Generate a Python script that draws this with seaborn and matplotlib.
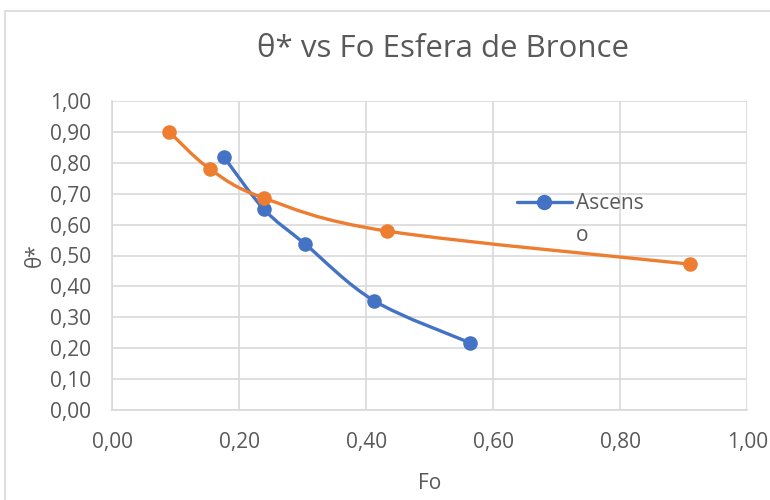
import matplotlib

matplotlib.use("Agg")
import matplotlib.pyplot as plt
import numpy as np
import pandas as pd
import seaborn as sns
from matplotlib.patches import PathPatch, Rectangle
from matplotlib.path import Path
from matplotlib.lines import Line2D

# data
ascenso_fo = [0.176, 0.239, 0.304, 0.413, 0.564]
ascenso_theta = [0.819, 0.650, 0.537, 0.353, 0.217]
serie2_fo = [0.090, 0.154, 0.239, 0.433, 0.910]
serie2_theta = [0.900, 0.780, 0.686, 0.579, 0.472]
tick_values = [0.0, 0.1, 0.2, 0.3, 0.4, 0.5, 0.6, 0.7, 0.8, 0.9, 1.0]

BLUE = "#4472C4"
ORANGE = "#ED7D31"
GREY_TEXT = "#595959"
GRID = "#D9D9D9"


def smooth_path(xs, ys, tension=1 / 6):
    # Bezier path through the points, like Excel's "smoothed line"
    pts = np.column_stack([xs, ys])
    verts = [pts[0]]
    codes = [Path.MOVETO]
    n = len(pts)
    for i in range(n - 1):
        p0 = pts[i - 1] if i > 0 else pts[i]
        p1 = pts[i]
        p2 = pts[i + 1]
        p3 = pts[i + 2] if i + 2 < n else pts[i + 1]
        c1 = p1 + (p2 - p0) * tension
        c2 = p2 - (p3 - p1) * tension
        verts += [c1, c2, p2]
        codes += [Path.CURVE4] * 3
    return Path(verts, codes)


def comma(v):
    return f"{v:.2f}".replace(".", ",")


sns.set_theme(style="whitegrid")
plt.rcParams["font.family"] = ["Open Sans", "DejaVu Sans"]

fig = plt.figure(figsize=(7.7, 5.0), dpi=100)
ax = fig.add_axes([0.1455, 0.18, 0.825, 0.618])
ax.set_facecolor("white")

df_a = pd.DataFrame({"Fo": ascenso_fo, "theta": ascenso_theta})
df_b = pd.DataFrame({"Fo": serie2_fo, "theta": serie2_theta})

for df, color in ((df_a, BLUE), (df_b, ORANGE)):
    ax.add_patch(PathPatch(smooth_path(df["Fo"].values, df["theta"].values),
                           facecolor="none", edgecolor=color, lw=2.4, zorder=3))
    sns.scatterplot(data=df, x="Fo", y="theta", color=color, s=110,
                    edgecolor=color, linewidth=0, ax=ax, zorder=4)

ax.set_xlim(0, 1)
ax.set_ylim(0, 1)
ax.set_xticks(tick_values[::2])
ax.set_yticks(tick_values)
ax.set_xticklabels([comma(v) for v in tick_values[::2]])
ax.set_yticklabels([comma(v) for v in tick_values])
ax.tick_params(axis="both", colors=GREY_TEXT, labelsize=15, length=0)
ax.tick_params(axis="x", pad=16)
ax.tick_params(axis="y", pad=15)
ax.grid(True, color=GRID, lw=1.2)
for side in ("top", "right"):
    ax.spines[side].set_visible(False)
ax.spines["left"].set_color(GRID)
ax.spines["bottom"].set_color(GRID)
ax.spines["left"].set_linewidth(1.2)
ax.spines["bottom"].set_linewidth(1.2)

ax.set_xlabel("Fo", color=GREY_TEXT, fontsize=15, labelpad=14)
ax.set_ylabel("θ*", color=GREY_TEXT, fontsize=15, labelpad=3)
fig.suptitle("θ* vs Fo Esfera de Bronce", x=0.575, y=0.932, color=GREY_TEXT, fontsize=22.5)

handle = Line2D([], [], color=BLUE, lw=2.4, marker="o", markersize=10)
leg = ax.legend([handle], ["Ascens"], loc="upper left", bbox_to_anchor=(0.625, 0.729),
                frameon=False, fontsize=15, handlelength=2.6, handletextpad=0.2,
                borderaxespad=0)
label = leg.get_texts()[0]
label.set_color(GREY_TEXT)
# the legend entry wraps onto a second line in the original
ax.annotate("o", xy=(0, 0), xycoords=label, xytext=(0, -23), textcoords="offset points",
            ha="left", va="bottom", fontsize=15, color=GREY_TEXT, zorder=6)

fig.add_artist(Rectangle((5 / 770, -0.01), 1.0, 1 - 11 / 500 + 0.01,
                         transform=fig.transFigure, fill=False, edgecolor=GRID, lw=1.2))

fig.savefig("out.png", dpi=100)
